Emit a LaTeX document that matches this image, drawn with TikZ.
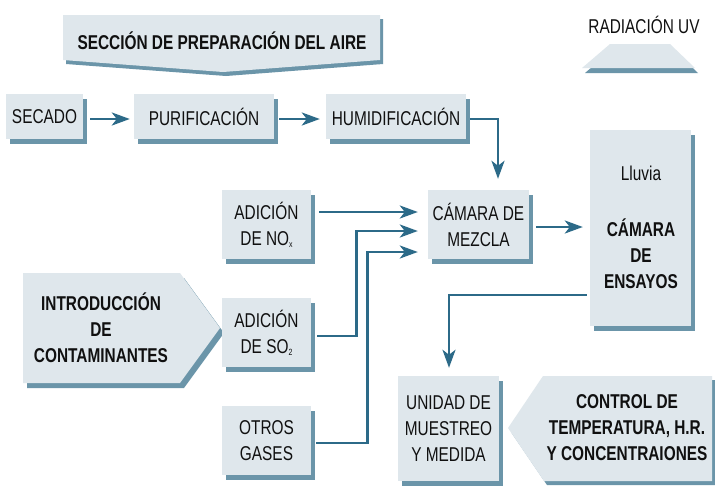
\documentclass[tikz,border=0pt]{standalone}
\usepackage{fontspec}
\setmainfont{Liberation Sans}[FakeStretch=0.77]
\usetikzlibrary{arrows.meta,calc,shadows}
\definecolor{boxfill}{HTML}{DFE7EC}
\definecolor{shadowc}{HTML}{6B95A9}
\definecolor{arrowc}{HTML}{2C6A88}
\definecolor{txt}{HTML}{101010}
\begin{document}
\begin{tikzpicture}[x=1pt,y=-1pt,
  every node/.style={text=txt, font=\fontsize{20}{26}\selectfont},
  box/.style={fill=boxfill, draw=none, inner sep=0pt, align=center,
    drop shadow={shadow xshift=4pt, shadow yshift=-5pt, fill=shadowc, opacity=1}},
  lbl/.style={inner sep=0pt, align=center},
  bold/.style={font=\fontsize{20}{26}\selectfont\bfseries},
  flow/.style={draw=arrowc, line width=2.7pt, line join=miter,
    -{Stealth[length=18pt,width=13pt,inset=5pt]}}
]
\useasboundingbox (0,0) rectangle (715,485);
\fill[white] (0,0) rectangle (715,485);

% top banner
\fill[shadowc] (66,19) -- (383,19) -- (383,64) -- (226,76) -- (66,64) -- cycle;
\fill[boxfill] (63,15) -- (380,15) -- (380,60) -- (223,72) -- (63,60) -- cycle;
\node[lbl,bold] (seccion) at (222,41) {SECCIÓN DE PREPARACIÓN DEL AIRE};

% radiacion UV
\node[lbl] (uv) at (644,25) {RADIACIÓN UV};
\fill[shadowc] (613,49) -- (673,49) -- (698,73) -- (585,73) -- cycle;
\fill[boxfill] (610,44) -- (670,44) -- (695,68) -- (582,68) -- cycle;

% introduccion de contaminantes
\fill[shadowc] (27,278) -- (184,278) -- (224,333) -- (184,388) -- (27,388) -- cycle;
\fill[boxfill] (23,273) -- (180,273) -- (220,328) -- (180,383) -- (23,383) -- cycle;
\node[lbl,bold] (intro) at (101,328) {INTRODUCCIÓN\\DE\\CONTAMINANTES};

% control
\fill[shadowc] (546,380) -- (715,380) -- (715,485) -- (547,485) -- (511,432) -- cycle;
\fill[boxfill] (543,376) -- (712,376) -- (712,481) -- (544,481) -- (508,428) -- cycle;
\node[lbl,bold] (control) at (627,428) {CONTROL DE\\TEMPERATURA, H.R.\\Y CONCENTRAIONES};

% boxes
\node[box, minimum width=77pt, minimum height=45pt] (secado) at (44.5,116.5) {SECADO};
\node[box, minimum width=140pt, minimum height=45pt] (purif) at (204,116.5) {PURIFICACIÓN};
\node[box, minimum width=140pt, minimum height=45pt] (humid) at (396,116.5) {HUMIDIFICACIÓN};
\node[box, minimum width=89pt, minimum height=69pt] (nox) at (266.5,224.5)
  {ADICIÓN\\DE NO\raisebox{-2pt}{\fontsize{9}{10}\selectfont x}};
\node[box, minimum width=101pt, minimum height=69pt] (mezcla) at (478.5,224.5) {CÁMARA DE\\MEZCLA};
\node[box, minimum width=101pt, minimum height=196pt] (ensayos) at (640.5,228) {};
\node[lbl] (lluvia) at (641,173) {Lluvia};
\node[lbl,bold] (ensayostxt) at (641,254) {CÁMARA\\DE\\ENSAYOS};
\node[box, minimum width=89pt, minimum height=69pt] (so2) at (266.5,332.5)
  {ADICIÓN\\DE SO\raisebox{-2pt}{\fontsize{9}{10}\selectfont 2}};
\node[box, minimum width=89pt, minimum height=69pt] (otros) at (266.5,440.5) {OTROS\\GASES};
\node[box, minimum width=101pt, minimum height=105pt] (unidad) at (448.5,428.5) {UNIDAD DE\\MUESTREO\\Y MEDIDA};

% connectors
\draw[flow] ($(secado.east)+(7,2.5)$) -- ($(purif.west)+(-4,2.5)$);
\draw[flow] ($(purif.east)+(5,2.5)$) -- ($(humid.west)+(-6,2.5)$);
\draw[flow] ($(humid.east)+(4,2.5)$) -| ($(mezcla.north)+(19.5,-11)$);
\draw[flow] ($(nox.east)+(8,-12.5)$) -- ($(mezcla.west)+(-10,-12.5)$);
\draw[flow] ($(so2.east)+(6,3.5)$) -| ($(mezcla.west)+(-71,6.5)$) -- ($(mezcla.west)+(-10,6.5)$);
\draw[flow] ($(otros.east)+(5,2.5)$) -| ($(mezcla.west)+(-60,27.5)$) -- ($(mezcla.west)+(-10,27.5)$);
\draw[flow] ($(mezcla.east)+(7,2.5)$) -- ($(ensayos.west)+(-7,-1)$);
\draw[flow] ($(ensayos.west)+(-3,67)$) -| ($(unidad.north)+(0.5,-8)$);
\end{tikzpicture}
\end{document}
